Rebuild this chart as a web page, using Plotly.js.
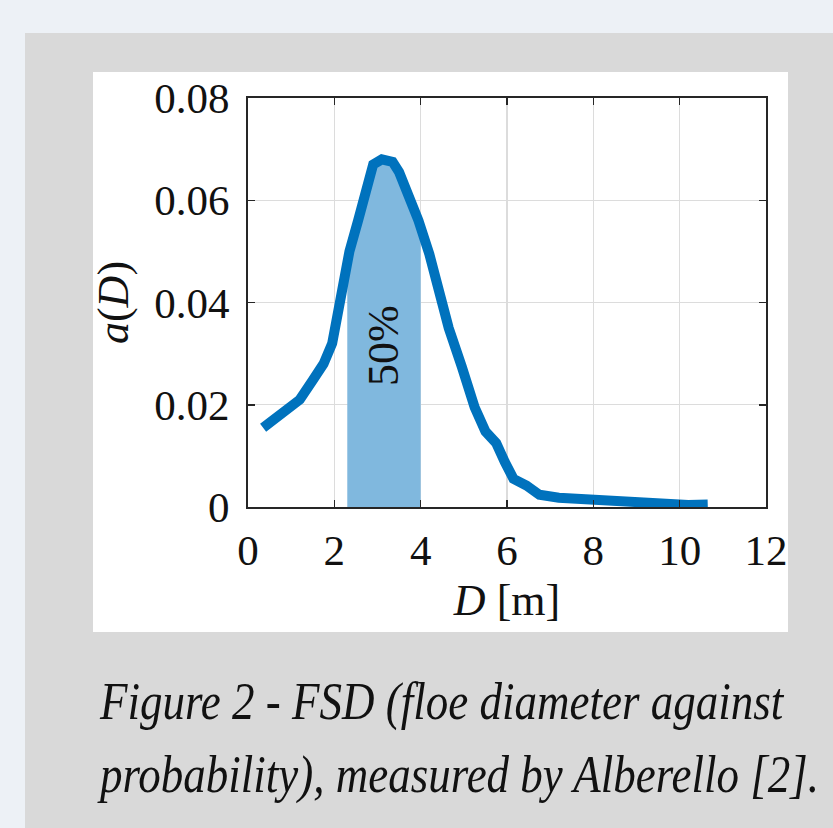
<!DOCTYPE html>
<html>
<head>
<meta charset="utf-8">
<script src="https://cdn.plot.ly/plotly-3.0.1.min.js"></script>
<style>
  html, body { margin: 0; padding: 0; }
  body { width: 833px; height: 828px; background: #edf1f6; position: relative; overflow: hidden; }
  #panel { position: absolute; left: 25px; top: 33px; width: 808px; height: 795px; background: #d9d9d9; }
  #card { position: absolute; left: 93px; top: 72px; width: 695px; height: 560px; background: #ffffff; }
  #chart { position: absolute; left: 0; top: 0; width: 833px; height: 828px; }
  #caption { position: absolute; left: 100px; top: 665px; width: 730px;
    font-family: "Liberation Serif", "Times New Roman", serif; font-style: italic; font-size: 45px;
    line-height: 62px; color: #111; white-space: nowrap;
    transform: scaleY(1.18); transform-origin: 0 0; }
</style>
</head>
<body>
<div id="panel"></div>
<div id="card"></div>
<div id="chart"></div>
<div id="caption">Figure 2 - FSD (floe diameter against<br>probability), measured by Alberello [2].</div>
<script>
// Data
const diameterD = [0.35, 0.8, 1.2, 1.5, 1.75, 1.95, 2.15, 2.35, 2.55, 2.75, 2.9, 3.1, 3.35, 3.5, 3.7, 3.95, 4.2, 4.4, 4.65, 4.95, 5.25, 5.5, 5.75, 5.95, 6.15, 6.45, 6.75, 7.2, 7.85, 8.5, 8.8, 9.15, 9.85, 10.2, 10.65];
const probabilityA = [0.0155, 0.0184, 0.021, 0.0248, 0.028, 0.032, 0.041, 0.050, 0.056, 0.0635, 0.067, 0.068, 0.0675, 0.0655, 0.0615, 0.056, 0.0495, 0.043, 0.035, 0.0275, 0.0195, 0.0148, 0.0125, 0.0088, 0.0055, 0.0042, 0.0024, 0.0018, 0.0015, 0.001, 0.0006, 0.0008, 0.0005, 0.0004, 0.0005];
const shadeRange = [2.3, 4.0];
const shadeLabel = "50%";
const xTickVals = [0, 2, 4, 6, 8, 10, 12];
const xTickText = ["0", "2", "4", "6", "8", "10", "12"];
const yTickVals = [0, 0.02, 0.04, 0.06, 0.08];
const yTickText = ["0", "0.02", "0.04", "0.06", "0.08"];

function interp(x) {
  for (let i = 0; i < diameterD.length - 1; i++) {
    if (x >= diameterD[i] && x <= diameterD[i + 1]) {
      const t = (x - diameterD[i]) / (diameterD[i + 1] - diameterD[i]);
      return probabilityA[i] + t * (probabilityA[i + 1] - probabilityA[i]);
    }
  }
  return 0;
}
const shadeX = [shadeRange[0]];
const shadeY = [interp(shadeRange[0])];
diameterD.forEach((d, i) => { if (d > shadeRange[0] && d < shadeRange[1]) { shadeX.push(d); shadeY.push(probabilityA[i]); } });
shadeX.push(shadeRange[1]); shadeY.push(interp(shadeRange[1]));

const serif = "Liberation Serif, Times New Roman, serif";
const traces = [
  { x: shadeX, y: shadeY, type: "scatter", mode: "lines", fill: "tozeroy",
    fillcolor: "#80b8de", line: { width: 0, color: "#80b8de" }, hoverinfo: "skip", showlegend: false },
  { x: diameterD, y: probabilityA, type: "scatter", mode: "lines",
    line: { color: "#0072bd", width: 10 }, showlegend: false }
];
const axisCommon = {
  showline: true, linecolor: "#262626", linewidth: 2, mirror: "ticks",
  ticks: "inside", ticklen: 7, tickwidth: 1.5, tickcolor: "#262626",
  showgrid: true, gridcolor: "#dcdcdc", gridwidth: 1.2, zeroline: false,
  tickfont: { family: serif, size: 43, color: "#111" }
};
const layout = {
  width: 833, height: 828,
  margin: { l: 248, r: 67, t: 98, b: 321 },
  paper_bgcolor: "rgba(0,0,0,0)", plot_bgcolor: "#ffffff",
  xaxis: Object.assign({}, axisCommon, {
    range: [0, 12], tickvals: xTickVals, ticktext: xTickText, ticklabelstandoff: 4,
    title: { text: "<i>D</i> [m]", font: { family: serif, size: 44, color: "#111" }, standoff: 12 }
  }),
  yaxis: Object.assign({}, axisCommon, {
    range: [0, 0.08], tickvals: yTickVals, ticktext: yTickText, ticklabelstandoff: 8,
    title: { text: "<i>a</i>(<i>D</i>)", font: { family: serif, size: 44, color: "#111" }, standoff: 12 }
  }),
  annotations: [{
    x: 3.15, y: 0.0317, xref: "x", yref: "y", text: shadeLabel, showarrow: false,
    textangle: -90, font: { family: serif, size: 44, color: "#111" }
  }]
};
Plotly.newPlot("chart", traces, layout, { displayModeBar: false, staticPlot: true });
</script>
</body>
</html>
